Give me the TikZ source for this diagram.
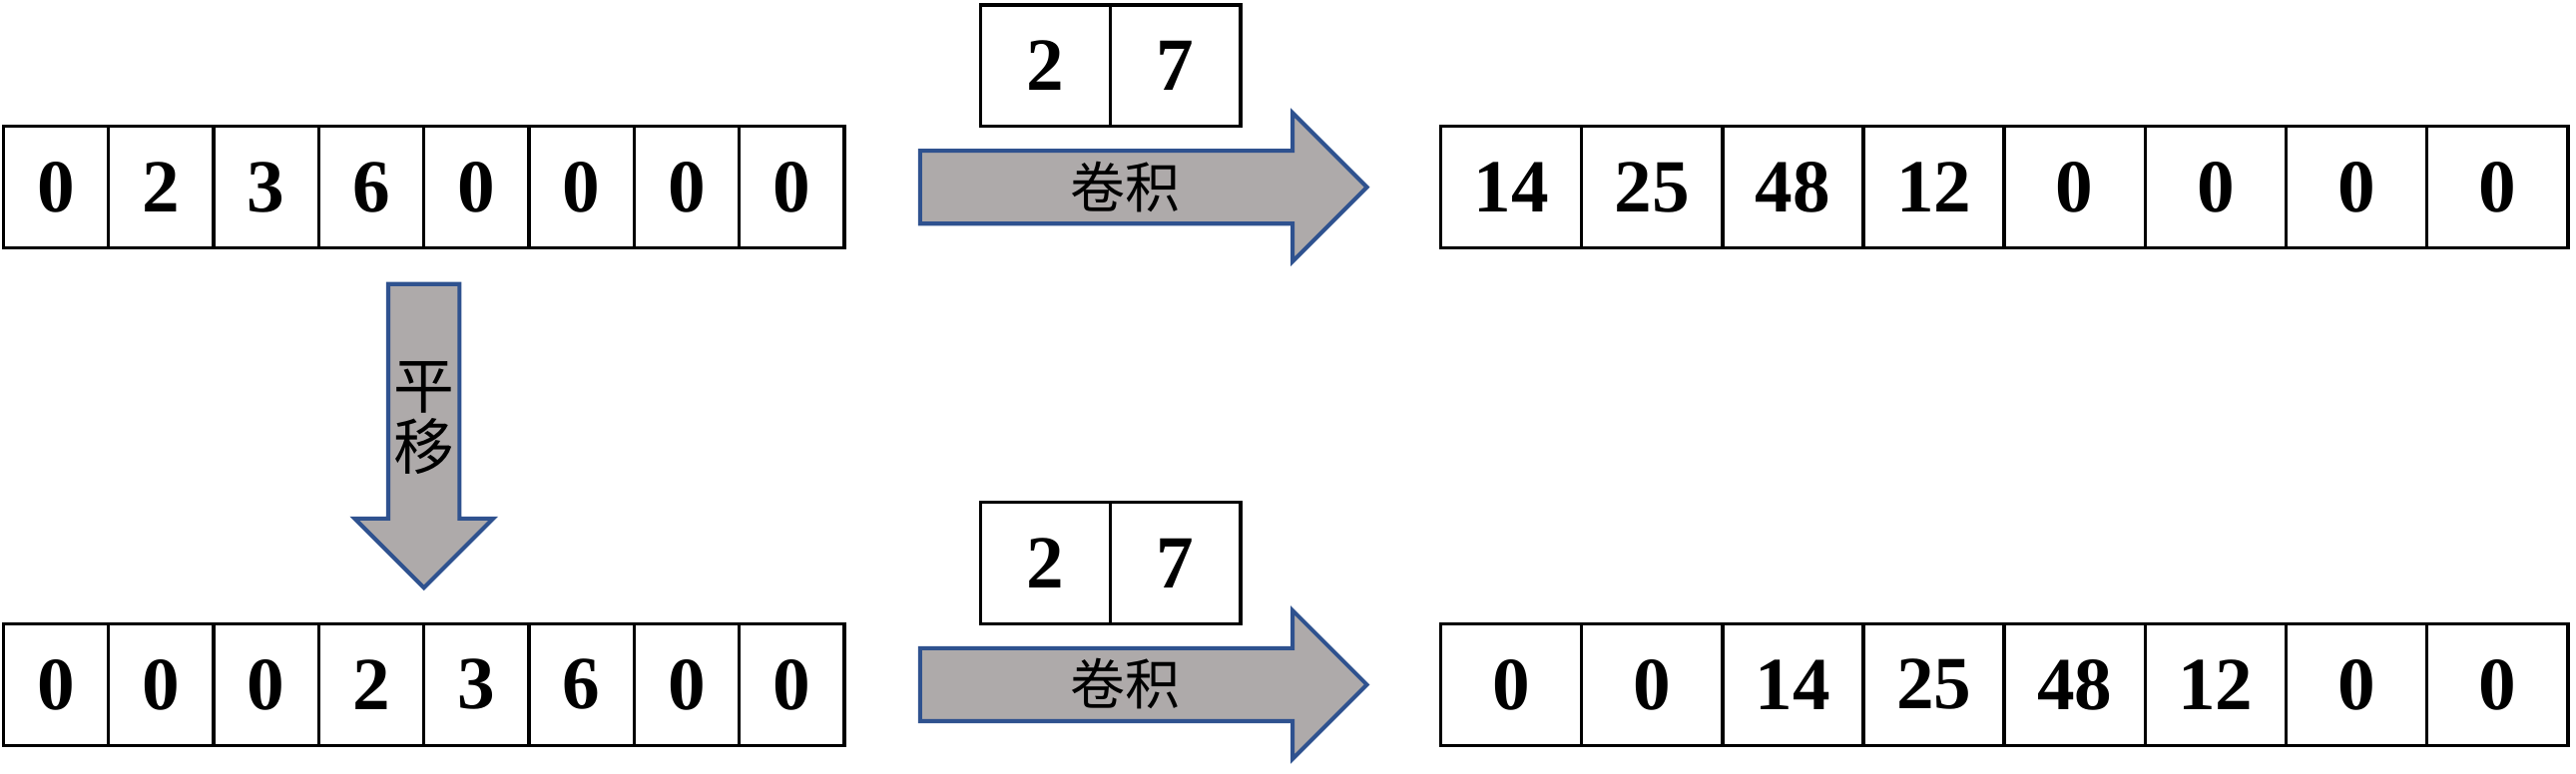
\documentclass[tikz,border=0pt]{standalone}
\usepackage{fontspec}
\setmainfont{Liberation Serif}
\newfontfamily\cjk{Noto Sans CJK SC}
\usetikzlibrary{positioning,shapes.arrows,calc}
\definecolor{arrowblue}{HTML}{2F528F}
\definecolor{arrowgray}{HTML}{AEAAAA}
\tikzset{
	cell/.style={draw, line width=1.2pt, minimum width=1.28cm, minimum height=1.48cm, inner sep=0pt, outer sep=0pt, font=\bfseries\fontsize{26}{26}\selectfont},
	widecell/.style={cell, minimum width=1.715cm},
	kernelcell/.style={cell, minimum width=1.58cm},
	blockarrow/.style={single arrow, draw=arrowblue, fill=arrowgray, line width=1.4pt, outer sep=0pt, single arrow tip angle=90},
	convarrow/.style={blockarrow, minimum height=5.44cm, single arrow head extend=0.46cm, inner sep=0pt, text height=0.67cm, text depth=0.17cm, font=\cjk\fontsize{19}{19}\selectfont},
	shiftarrow/.style={blockarrow, shape border rotate=270, minimum height=3.7cm, single arrow head extend=0.41cm, inner xsep=0.04cm, inner ysep=0pt, align=center, font=\cjk\fontsize{21}{21}\selectfont}
}
\begin{document}
\begin{tikzpicture}
	\useasboundingbox (0,0) rectangle (31.36,-9.42);
	
	\node [cell, anchor=north west] (a1) at (0.04,-1.54) {0};
	\node [cell, right = 0pt of a1] (a2) {2};
	\node [cell, right = 0pt of a2] (a3) {3};
	\node [cell, right = 0pt of a3] (a4) {6};
	\node [cell, right = 0pt of a4] (a5) {0};
	\node [cell, right = 0pt of a5] (a6) {0};
	\node [cell, right = 0pt of a6] (a7) {0};
	\node [cell, right = 0pt of a7] (a8) {0};
	
	\node [convarrow, right = 0.92cm of a8, anchor=tail] (conv1) {卷积};
	\node [kernelcell, anchor=south west] (k1) at ($(conv1.tail |- a1.north) + (0.74,0)$) {2};
	\node [kernelcell, right = 0pt of k1] (k2) {7};
	
	\node [widecell, right = 0.9cm of conv1.tip] (b1) {14};
	\node [widecell, right = 0pt of b1] (b2) {25};
	\node [widecell, right = 0pt of b2] (b3) {48};
	\node [widecell, right = 0pt of b3] (b4) {12};
	\node [widecell, right = 0pt of b4] (b5) {0};
	\node [widecell, right = 0pt of b5] (b6) {0};
	\node [widecell, right = 0pt of b6] (b7) {0};
	\node [widecell, right = 0pt of b7] (b8) {0};
	
	\node [shiftarrow, below = 0.44cm of a4.south east, anchor=tail] (shift) {平\\移};
	
	\node [cell, below = 4.58cm of a1] (c1) {0};
	\node [cell, right = 0pt of c1] (c2) {0};
	\node [cell, right = 0pt of c2] (c3) {0};
	\node [cell, right = 0pt of c3] (c4) {2};
	\node [cell, right = 0pt of c4] (c5) {3};
	\node [cell, right = 0pt of c5] (c6) {6};
	\node [cell, right = 0pt of c6] (c7) {0};
	\node [cell, right = 0pt of c7] (c8) {0};
	
	\node [convarrow, right = 0.92cm of c8, anchor=tail] (conv2) {卷积};
	\node [kernelcell, anchor=south west] (m1) at ($(conv2.tail |- c1.north) + (0.74,0)$) {2};
	\node [kernelcell, right = 0pt of m1] (m2) {7};
	
	\node [widecell, right = 0.9cm of conv2.tip] (d1) {0};
	\node [widecell, right = 0pt of d1] (d2) {0};
	\node [widecell, right = 0pt of d2] (d3) {14};
	\node [widecell, right = 0pt of d3] (d4) {25};
	\node [widecell, right = 0pt of d4] (d5) {48};
	\node [widecell, right = 0pt of d5] (d6) {12};
	\node [widecell, right = 0pt of d6] (d7) {0};
	\node [widecell, right = 0pt of d7] (d8) {0};
\end{tikzpicture}
\end{document}
